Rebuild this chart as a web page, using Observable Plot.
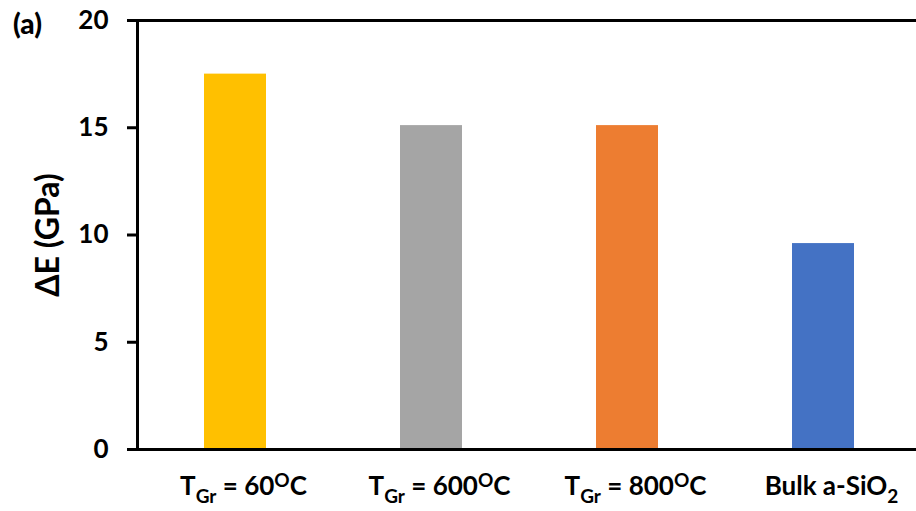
<!DOCTYPE html>
<html>
<head>
<meta charset="utf-8">
<script src="https://cdn.jsdelivr.net/npm/d3@7"></script>
<script src="https://cdn.jsdelivr.net/npm/@observablehq/plot@0.6"></script>
<style>
  html, body { margin: 0; padding: 0; background: white; }
  #wrap { position: relative; width: 916px; height: 511px; overflow: hidden; }
  #tag { position: absolute; left: 13px; top: 7px; font-family: Lato, sans-serif; font-weight: 900; font-size: 28px; color: #000; line-height: 1.2; }
</style>
</head>
<body>
<div id="wrap"><div id="tag">(a)</div></div>
<script>
const categories = ["T60", "T600", "T800", "Bulk"];
const values = [17.5, 15.1, 15.1, 9.6];
const colors = ["#FFC000", "#A5A5A5", "#ED7D31", "#4472C4"];
const tickLabels = [
  [["T", ""], ["Gr", "sub"], [" = 60", ""], ["O", "sup"], ["C", ""]],
  [["T", ""], ["Gr", "sub"], [" = 600", ""], ["O", "sup"], ["C", ""]],
  [["T", ""], ["Gr", "sub"], [" = 800", ""], ["O", "sup"], ["C", ""]],
  [["Bulk a-SiO", ""], ["2", "sub"]]
];
const yTicks = [0, 5, 10, 15, 20];
const yLabel = "ΔE (GPa)";

const data = categories.map((c, i) => ({cat: c, value: values[i], color: colors[i]}));

const chart = Plot.plot({
  width: 916,
  height: 511,
  marginLeft: 137,
  marginTop: 20,
  marginBottom: 62,
  marginRight: 0,
  style: {fontFamily: "Lato, sans-serif", fontWeight: "bold", fontSize: "26px", color: "#000", background: "white"},
  x: {domain: categories, range: [136, 922], paddingInner: 0.685, paddingOuter: 0.3425},
  y: {domain: [0, 20]},
  color: {type: "identity"},
  marks: [
    Plot.barY(data, {x: "cat", y: "value", fill: "color"}),
    Plot.axisY({ticks: yTicks, tickSize: 10, tickPadding: 19, strokeWidth: 3, label: null, fontSize: 26}),
    Plot.axisX({tickSize: 0, tickPadding: 27, dx: 8, label: null, fontSize: 26}),
    Plot.frame({anchor: "left", strokeWidth: 3}),
    Plot.ruleY([0], {insetLeft: -10, strokeWidth: 3}),
    Plot.ruleY([20], {insetLeft: -10, strokeWidth: 3}),
    Plot.text([yLabel], {frameAnchor: "left", textAnchor: "middle", rotate: -90, dx: -89, fontSize: 32, fontWeight: "bold", fill: "#000"})
  ]
});

document.getElementById("wrap").appendChild(chart);

d3.select(chart).selectAll('g[aria-label="x-axis tick label"] text').each(function(_, i) {
  const t = d3.select(this);
  t.text(null);
  let shift = 0;
  for (const [s, kind] of tickLabels[i]) {
    const ts = t.append("tspan").text(s);
    let target = 0;
    if (kind === "sub") { target = 8; ts.attr("font-size", 19); }
    else if (kind === "sup") { target = -8; ts.attr("font-size", 19); }
    if (target !== shift) { ts.attr("dy", target - shift); shift = target; }
  }
});
</script>
</body>
</html>
